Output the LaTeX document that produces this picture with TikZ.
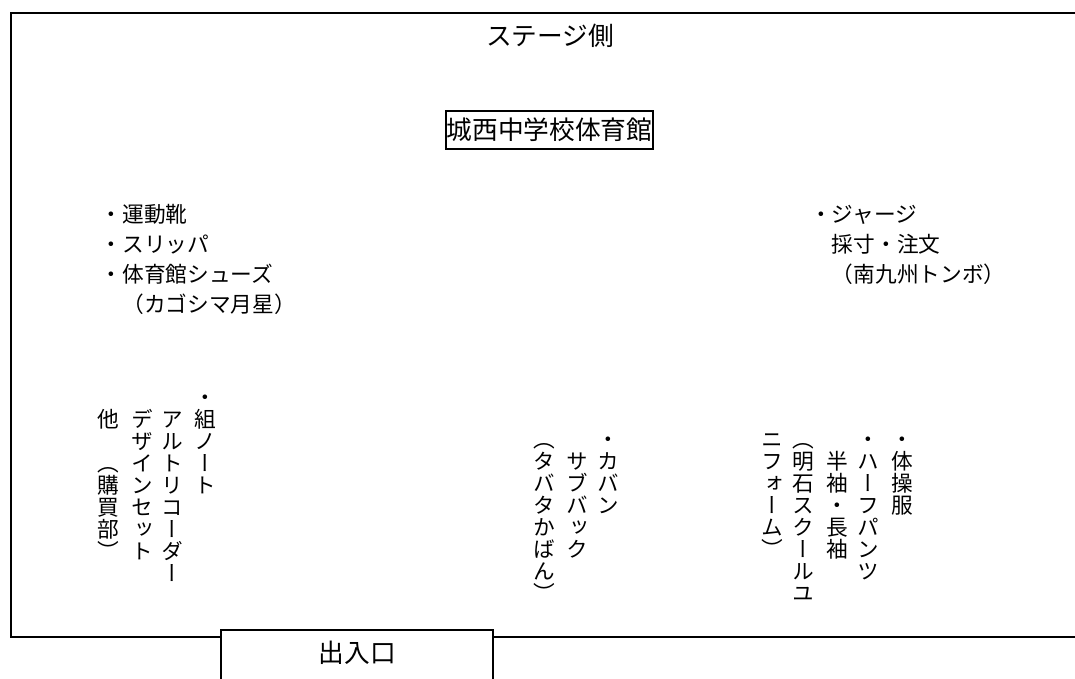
\documentclass[tikz,border=0pt]{standalone}
\usepackage{fontspec}
\usetikzlibrary{positioning}
\newfontfamily\jp{Noto Sans CJK JP}
\newfontfamily\tatefont{Noto Sans CJK JP}[RawFeature=+vert]

% one character per cell, top to bottom
\def\tatechars#1{\ifx#1\relax\else\hbox to 1em{\hss\vrule height .88em depth .12em width 0pt #1\hss}\expandafter\tatechars\fi}
\newcommand{\tate}[1]{\vbox{\baselineskip=22pt\lineskiplimit=-\maxdimen\tatechars#1\relax}}

\begin{document}
\begin{tikzpicture}[x=1pt, y=1pt, line width=1.5pt,
    item/.style={font=\jp\fontsize{21.7}{30}\selectfont, inner sep=0pt},
    tatecol/.style={font=\tatefont\fontsize{21.7}{22}\selectfont, inner sep=0pt},
    big/.style={font=\jp\fontsize{25.7}{30}\selectfont, inner sep=0pt}]
    \useasboundingbox (0,0) rectangle (1075,678);
    \clip (0,0) rectangle (1075,678);

    % hall outline and entrance
    \draw[line width=2pt] (1100,665.3) -- (11,665.3) -- (11,41) -- (1100,41);
    \draw[fill=white] (221,48) rectangle (493,-20);
    \node[big, anchor=base] (door) at (357.5,16) {出入口};

    \node[big, anchor=base] (stage) at (550,632) {ステージ側};
    \node[big, draw, line width=2pt, inner xsep=1pt, inner ysep=6.2pt, text height=22.6pt, text depth=3.1pt] (hall) at (549.5,548) {城西中学校体育館};

    % left list
    \node[item, anchor=base west] (s1) at (100,455) {・運動靴};
    \node[item, below=30pt of s1.base west, anchor=base west] (s2) {・スリッパ};
    \node[item, below=30pt of s2.base west, anchor=base west] (s3) {・体育館シューズ};
    \node[item, below=30pt of s3.base west, anchor=base west] (s4) {　（カゴシマ月星）};

    % right list
    \node[item, anchor=base west] (j1) at (809.5,455) {・ジャージ};
    \node[item, below=30pt of j1.base west, anchor=base west] (j2) {　採寸・注文};
    \node[item, below=30pt of j2.base west, anchor=base west] (j3) {　（南九州トンボ）};

    % vertical columns, left
    \node[tatecol, anchor=north] (k1) at (205,292.5) {\tate{・組ノート}};
    \node[tatecol, left=33pt of k1.north, anchor=north] (k2) {\tate{　アルトリコーダー}};
    \node[tatecol, left=30pt of k2.north, anchor=north] (k3) {\tate{　デザインセット}};
    \node[tatecol, left=34pt of k3.north, anchor=north] (k4) {\tate{　他　（購買部）}};

    % vertical columns, middle
    \node[tatecol, anchor=north] (m1) at (608,250) {\tate{・カバン}};
    \node[tatecol, left=31pt of m1.north, anchor=north] (m2) {\tate{　サブバック}};
    \node[tatecol, left=33pt of m2.north, anchor=north] (m3) {\tate{（タバタかばん）}};

    % vertical columns, right
    \node[tatecol, anchor=north] (r1) at (902,250) {\tate{・体操服}};
    \node[tatecol, left=34pt of r1.north, anchor=north] (r2) {\tate{・ハーフパンツ}};
    \node[tatecol, left=31pt of r2.north, anchor=north] (r3) {\tate{　半袖・長袖}};
    \node[tatecol, left=34pt of r3.north, anchor=north] (r4) {\tate{（明石スクールユ}};
    \node[tatecol, left=31pt of r4.north, anchor=north] (r5) {\tate{ニフォーム）}};
\end{tikzpicture}
\end{document}
